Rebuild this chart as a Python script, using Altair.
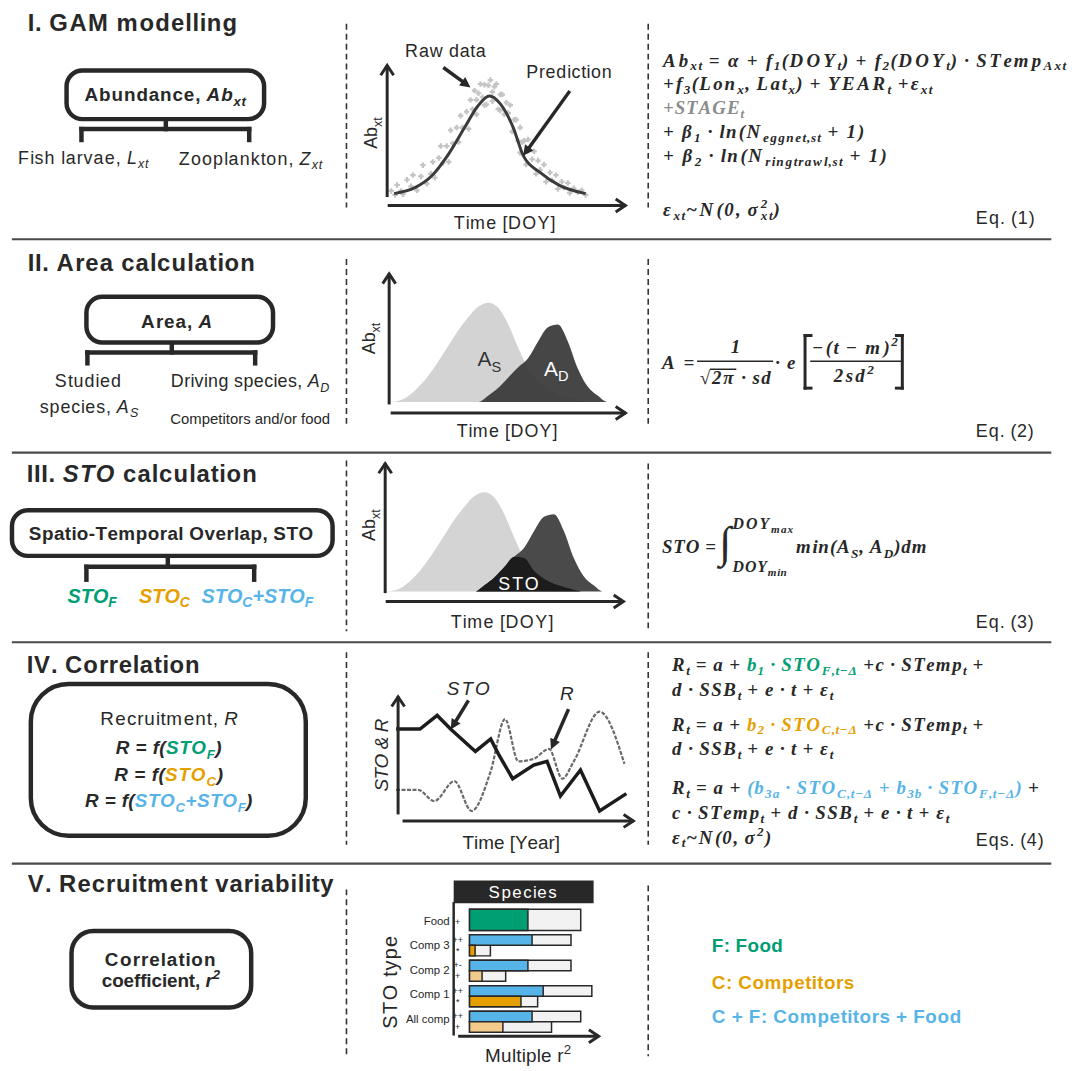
import math
import altair as alt
import pandas as pd

# ---------------------------------------------------------------- values
# Panel I: GAM prediction and raw observations (day of year vs relative abundance)
pred_doy = [2.5, 13, 21.5, 29.5, 38, 44.5, 50.5, 56, 62.5, 67.5, 76, 86, 99]
pred_ab = [0.03, 0.075, 0.165, 0.32, 0.53, 0.69, 0.77, 0.71, 0.53, 0.32, 0.19, 0.09, 0.03]
raw_doy = [1, 3, 4, 6, 7, 9, 11, 12, 14, 16, 17, 19, 21, 22, 23, 25, 26, 27, 29, 30,
           31, 32, 34, 35, 36, 37, 39, 40, 41, 42, 43, 44, 45, 46, 47, 48, 49, 50, 51, 52,
           53, 54, 55, 56, 57, 58, 59, 60, 61, 62, 63, 64, 65, 66, 66, 67, 68, 69, 70, 70,
           72, 73, 74, 75, 76, 78, 79, 81, 82, 84, 85, 87, 88, 90, 91, 93, 95, 97, 99,
           44, 48, 52, 56]
raw_ab = [0.05, 0.02, 0.095, 0.05, 0.025, 0.135, 0.085, 0.17, 0.055, 0.16, 0.245, 0.105,
          0.18, 0.27, 0.15, 0.30, 0.39, 0.26, 0.39, 0.27, 0.51, 0.41, 0.53, 0.42, 0.62, 0.53,
          0.65, 0.52, 0.74, 0.67, 0.81, 0.63, 0.79, 0.86, 0.76, 0.855, 0.705, 0.85, 0.89, 0.73,
          0.84, 0.86, 0.67, 0.78, 0.78, 0.63, 0.72, 0.64, 0.70, 0.50, 0.59, 0.59, 0.43, 0.53,
          0.34, 0.42, 0.43, 0.25, 0.36, 0.44, 0.29, 0.35, 0.18, 0.28, 0.21, 0.25, 0.12, 0.19,
          0.13, 0.17, 0.065, 0.12, 0.075, 0.11, 0.035, 0.07, 0.04, 0.055, 0.02,
          0.74, 0.70, 0.80, 0.66]

# Panels II and III: studied species (A_S) and driving species (A_D)
area_doy = [0, 5, 10, 15, 20, 25, 30, 35, 40, 45, 50, 55, 60, 65, 70, 75, 80, 85, 90, 95,
            100, 105, 110, 115]
studied_ab = [0.0, 0.01, 0.05, 0.12, 0.21, 0.32, 0.44, 0.56, 0.66, 0.74, 0.77, 0.73, 0.60,
              0.42, 0.26, 0.16, 0.10, 0.06, 0.035, 0.015, 0.0, 0.0, 0.0, 0.0]
driving_ab = [0.0, 0.0, 0.0, 0.0, 0.0, 0.0, 0.0, 0.0, 0.0, 0.0, 0.05, 0.11, 0.19, 0.27, 0.34,
              0.47, 0.58, 0.60, 0.47, 0.26, 0.12, 0.05, 0.0, 0.0]
overlap_ab = [min(s, d) for s, d in zip(studied_ab, driving_ab)]

# Panel IV: STO and recruitment time series
sto_t = [0, 2.5, 4.3, 5.7, 8.3, 9.9, 10.7, 12.2, 14.4, 15.8, 17.2, 19.3, 21.3, 24.1]
sto_v = [0.74, 0.74, 0.85, 0.74, 0.56, 0.66, 0.54, 0.34, 0.45, 0.48, 0.20, 0.41, 0.08, 0.22]
rec_t = [0, 2.3, 4.0, 6.1, 7.9, 9.9, 11.4, 12.8, 14.4, 16.0, 17.4, 18.6, 21.3, 23.9]
rec_v = [0.25, 0.25, 0.16, 0.32, 0.08, 0.40, 0.82, 0.48, 0.50, 0.58, 0.34, 0.48, 0.88, 0.46]

# Panel V: multiple r2 by STO type
sto_types = ["Food", "Comp 3", "Comp 2", "Comp 1", "All comp"]
bar_type = ["Food", "Comp 3", "Comp 3", "Comp 2", "Comp 2", "Comp 1", "Comp 1", "All comp", "All comp"]
bar_group = ["F", "C+F", "C", "C+F", "C", "C+F", "C", "C+F", "C"]
bar_kind = ["Food", "Comp+Food", "Comp", "Comp+Food", "Comp (weak)", "Comp+Food", "Comp",
            "Comp+Food", "Comp (weak)"]
bar_r2 = [0.42, 0.45, 0.04, 0.42, 0.09, 0.53, 0.37, 0.45, 0.24]
bar_max = [0.80, 0.73, 0.15, 0.73, 0.26, 0.88, 0.49, 0.80, 0.59]
bar_sig = ["+", "++", "*", "+-", "+", "++", "*", "++", "+"]

# ---------------------------------------------------------------- styles
DARK = "#282828"
GREEN = "#009E73"
ORANGE = "#E69F00"
LORANGE = "#F2CB8A"
BLUE = "#56B4E9"
GREYTXT = "#8c8c8c"
WHITE = "#ffffff"
FONTS = {"sans": "Liberation Sans", "serif": "Liberation Serif"}

ASCII = [chr(c) for c in range(32, 127)]
HELV = ([278, 278, 355, 556, 556, 889, 667, 191, 333, 333, 389, 584, 278, 333, 278, 278] + [556] * 10 +
        [278, 278, 584, 584, 584, 556, 1015] +
        [667, 667, 722, 722, 667, 611, 778, 722, 278, 500, 667, 556, 833, 722, 778, 667, 778, 722,
         667, 611, 722, 667, 944, 667, 667, 611] + [278, 278, 278, 469, 556, 333] +
        [556, 556, 500, 556, 556, 278, 556, 556, 222, 222, 500, 222, 833, 556, 556, 556, 556, 333,
         500, 278, 556, 500, 722, 500, 500, 500] + [334, 260, 334, 584])
HELVB = ([278, 333, 474, 556, 556, 889, 722, 238, 333, 333, 389, 584, 278, 333, 278, 278] + [556] * 10 +
         [333, 333, 584, 584, 584, 611, 975] +
         [722, 722, 722, 722, 667, 611, 778, 722, 278, 556, 722, 611, 833, 722, 778, 667, 778, 722,
          667, 611, 722, 667, 944, 667, 667, 611] + [333, 278, 333, 584, 556, 333] +
         [556, 611, 556, 611, 556, 333, 611, 611, 278, 278, 556, 278, 889, 611, 611, 611, 611, 389,
          556, 333, 611, 556, 778, 556, 556, 500] + [389, 280, 389, 584])
TIMESBI = ([250, 389, 555, 500, 500, 833, 778, 278, 333, 333, 500, 570, 250, 333, 250, 278] + [500] * 10 +
           [333, 333, 570, 570, 570, 500, 832] +
           [667, 667, 667, 722, 667, 667, 722, 778, 389, 500, 667, 611, 889, 722, 722, 611, 722, 667,
            556, 611, 722, 667, 889, 667, 611, 611] + [333, 278, 333, 570, 500, 333] +
           [500, 500, 444, 500, 444, 333, 500, 556, 278, 278, 500, 278, 778, 556, 500, 500, 500, 389,
            389, 278, 556, 444, 667, 500, 444, 389] + [348, 220, 348, 570])
EXTRA = {"α": 560, "β": 520, "ε": 440, "σ": 560, "Δ": 640, "π": 560, "·": 260, "−": 590,
         "√": 550, "∫": 300, "²": 330}
MET = {("sans", "normal"): dict(zip(ASCII, HELV)), ("sans", "bold"): dict(zip(ASCII, HELVB)),
       ("serif", "bold"): dict(zip(ASCII, TIMESBI)), ("serif", "normal"): dict(zip(ASCII, TIMESBI))}
for m in MET.values():
    m.update(EXTRA)


def parse(m):
    out, buf, i = [], "", 0
    while i < len(m):
        if m.startswith("_!{", i):
            kind, j0 = "S", i + 3
        elif m.startswith("_{", i):
            kind, j0 = "s", i + 2
        elif m.startswith("^{", i):
            kind, j0 = "p", i + 2
        else:
            buf += m[i]
            i += 1
            continue
        if buf:
            out.append((buf, "n"))
            buf = ""
        j = m.index("}", j0)
        out.append((m[j0:j], kind))
        i = j + 1
    if buf:
        out.append((buf, "n"))
    return out


text_rows = []


def P(markup, color=DARK, weight="normal", style="normal"):
    return (markup, color, weight, style)


def E(markup, color=DARK):
    return (markup, color, "bold", "italic")


def T(parts, x, y, size, fam="sans", align="left", width=None, angle=0, sub=0.25):
    items, cum, last_start, last_w = [], 0.0, 0.0, 0.0
    for markup, color, weight, style in parts:
        table = MET[(fam, weight)]
        for txt, kind in parse(markup):
            sc = 1.0 if kind == "n" else 0.7
            start = last_start if kind == "S" else cum
            pos = start
            for ch in txt:
                items.append((ch, pos, kind, sc, color, weight, style))
                pos += table.get(ch, 560) / 1000.0 * sc
            w = pos - start
            cum = start + max(last_w, w) if kind == "S" else pos
            last_start, last_w = start, w
    k = width / (cum * size) if width else 1.0
    total = cum * size * k
    s0 = {"left": 0.0, "center": -total / 2, "right": -total}[align]
    for ch, pos, kind, sc, color, weight, style in items:
        if ch == " ":
            continue
        along = s0 + pos * size * k
        off = {"n": 0.0, "s": sub, "S": sub, "p": -0.42}[kind] * size
        if angle == 0:
            px, py = x + along, y + off
        else:
            px, py = x + off, y - along
        text_rows.append(dict(x=px, y=py, t=ch, s=size * sc, c=color, fam=fam, wt=weight,
                              st=style, a=angle))


rules, dashed, heads, boxes = [], [], [], []


def R(x1, y1, x2, y2, w=4.5, c=DARK):
    rules.append(dict(x=x1, y=y1, x2=x2, y2=y2, w=w, c=c))


def arrow(x1, y1, x2, y2, head="fill", w=3.5):
    L = math.hypot(x2 - x1, y2 - y1)
    ux, uy = (x2 - x1) / L, (y2 - y1) / L
    back = 6 if head == "fill" else 1
    R(x1, y1, x2 - ux * back, y2 - uy * back, w)
    heads.append(dict(x=x2, y=y2, a=math.degrees(math.atan2(ux, -uy)) % 360, kind=head))


def bracket(cx, ytop, ybar, x1, x2, ybot):
    R(cx, ytop, cx, ybar)
    R(x1, ybar, x2, ybar)
    R(x1, ybar, x1, ybot)
    R(x2, ybar, x2, ybot)


# ---------------------------------------------------------------- row I
T([P("I. GAM modelling", weight="bold")], 28, 27, 24, width=212)
boxes.append(dict(x=67, x2=266, y=67, y2=116, r=16))
T([P("Abundance, ", weight="bold"), P("Ab_{xt}", weight="bold", style="italic")], 166.5, 98, 19,
  align="center", width=163)
bracket(167, 117, 126, 82, 251, 137)
T([P("Fish larvae, "), P("L_{xt}", style="italic")], 18, 161, 18, width=132)
T([P("Zooplankton, "), P("Z_{xt}", style="italic")], 180, 162, 18, width=145)
T([P("Raw data")], 408, 53, 18, width=82)
T([P("Prediction")], 530, 75, 18, width=87)
T([P("Ab_{xt}")], 380, 130, 18, align="center", angle=270)
T([P("Time [DOY]")], 508.5, 227, 18, align="center", width=103)
arrow(390, 193, 390, 62, "chev", 3)
arrow(392, 203, 630, 203, "chev", 3)
arrow(448, 65, 474, 84)
arrow(573, 89, 527, 153)
T([E("Ab_{xt} = α + f_{1}(DOY_{t}) + f_{2}(DOY_{t}) · STemp_{Axt}")], 668, 63, 19, "serif",
  width=407, sub=0.2)
T([E("+f_{3}(Lon_{x}, Lat_{x}) + YEAR_{t} +ε_{xt}")], 668, 87, 19, "serif", width=272, sub=0.2)
T([E("+STAGE_{t}", GREYTXT)], 668, 111, 19, "serif", width=82, sub=0.2)
T([E("+ β_{1} · ln(N_{eggnet,st} + 1)")], 668, 135, 19, "serif", width=204, sub=0.2)
T([E("+ β_{2} · ln(N_{ringtrawl,st} + 1)")], 668, 159, 19, "serif", width=227, sub=0.2)
T([E("ε_{xt}~N(0, σ^{2}_!{xt})")], 668, 214, 19, "serif", width=119, sub=0.2)
T([P("Eq. (1)")], 983, 222, 18, width=60)

# ---------------------------------------------------------------- row II
T([P("II. Area calculation", weight="bold")], 28, 269, 24, width=230)
boxes.append(dict(x=87, x2=275, y=295, y2=341, r=16))
T([P("Area, ", weight="bold"), P("A", weight="bold", style="italic")], 178.5, 326, 19,
  align="center", width=73)
bracket(173, 342, 351, 88, 257, 362)
T([P("Studied")], 89, 386, 18, align="center", width=68)
T([P("species, "), P("A_{S}", style="italic")], 90, 412, 18, align="center", width=100)
T([P("Driving species, "), P("A_{D}", style="italic")], 252, 386, 18, align="center", width=160)
T([P("Competitors and/or food")], 252, 423, 15, align="center", width=161)
T([P("Ab_{xt}")], 378, 337, 18, align="center", angle=270)
T([P("Time [DOY]")], 511, 436, 18, align="center", width=102)
T([P("A_{S}", "#333333")], 481, 365, 21)
T([P("A_{D}", WHITE)], 548, 375, 21)
arrow(392, 402, 392, 272, "chev", 3)
arrow(395, 412, 630, 412, "chev", 3)
T([E("A =")], 667, 368, 19, "serif", width=35)
T([E("1")], 741, 352, 19, "serif", align="center")
T([E("√2π · sd")], 705, 383, 19, "serif", width=73)
R(716, 368, 741, 368, 1.5)
R(703, 360, 778, 360, 1.6)
T([E("· e")], 781, 368, 19, "serif", width=22)
T([E("−(t − m)^{2}")], 818, 353, 19, "serif", width=88)
R(817, 360, 907, 360, 1.6)
T([E("2sd^{2}")], 840, 381, 19, "serif", width=42)
for bx, sgn in ((811, 1), (909, -1)):
    R(bx, 334, bx, 387, 3)
    R(bx, 334, bx + 6 * sgn, 334, 3)
    R(bx, 387, bx + 6 * sgn, 387, 3)
T([P("Eq. (2)")], 983, 436, 18, width=59)

# ---------------------------------------------------------------- row III
T([P("III. ", weight="bold"), P("STO", weight="bold", style="italic"),
   P(" calculation", weight="bold")], 27, 482, 24, width=233)
boxes.append(dict(x=12, x2=335, y=510, y2=556, r=16))
T([P("Spatio-Temporal Overlap, STO", weight="bold")], 172.5, 540, 19, align="center", width=287)
bracket(169, 557, 567, 87, 256, 580)
T([P("STO_{F}", GREEN, "bold", "italic")], 68, 603, 20)
T([P("STO_{C}", ORANGE, "bold", "italic")], 140, 603, 20)
T([P("STO_{C}+STO_{F}", BLUE, "bold", "italic")], 203, 603, 20)
T([P("Ab_{xt}")], 378, 525, 18, align="center", angle=270)
T([P("Time [DOY]")], 506, 629, 18, align="center", width=104)
arrow(388, 592, 388, 463, "chev", 3)
arrow(390, 602, 628, 602, "chev", 3)
T([P("STO", WHITE)], 523.5, 590, 18, align="center", width=43)
T([E("STO =")], 667, 553, 19, "serif", width=55)
T([E("∫")], 724, 557, 44, "serif")
T([E("DOY_{max}")], 738, 529, 16, "serif", width=62)
T([E("DOY_{min}")], 738, 572, 16, "serif", width=55)
T([E("min(A_{S}, A_{D})dm")], 802, 553, 19, "serif", width=133)
T([P("Eq. (3)")], 983, 629, 18, width=59)

# ---------------------------------------------------------------- row IV
T([P("IV. Correlation", weight="bold")], 27, 674, 24, width=175)
T([P("Recruitment, "), P("R", style="italic")], 171, 726, 19, align="center", width=140)
for yy, lab, col, wd in ((756, "STO_{F}", GREEN, 107), (783, "STO_{C}", ORANGE, 110),
                         (809, "STO_{C}+STO_{F}", BLUE, 169)):
    T([P("R = f(", DARK, "bold", "italic"), P(lab, col, "bold", "italic"),
       P(")", DARK, "bold", "italic")], 170, yy, 19, align="center", width=wd)
T([P("STO & R", style="italic")], 391, 757, 19, align="center", width=73, angle=270)
T([P("Time [Year]")], 515, 851, 19, align="center")
T([P("STO", style="italic")], 450, 696, 19, width=46)
T([P("R", style="italic")], 564, 701, 19, width=14)
arrow(401, 815, 401, 698, "chev", 3)
arrow(407, 823, 638, 823, "chev", 3)
arrow(471, 703, 454, 731)
arrow(572, 712, 555, 751)
T([E("R_{t} = a + "), E("b_{1} · STO_{F,t−Δ}", GREEN), E(" +c · STemp_{t} +")], 677, 672, 19,
  "serif", width=315, sub=0.2)
T([E("d · SSB_{t} + e · t + ε_{t}")], 677, 697, 19, "serif", width=163, sub=0.2)
T([E("R_{t} = a + "), E("b_{2} · STO_{C,t−Δ}", ORANGE), E(" +c · STemp_{t} +")], 677, 732, 19,
  "serif", width=315, sub=0.2)
T([E("d · SSB_{t} + e · t + ε_{t}")], 677, 757, 19, "serif", width=163, sub=0.2)
T([E("R_{t} = a + "), E("(b_{3a} · STO_{C,t−Δ} + b_{3b} · STO_{F,t−Δ})", BLUE), E(" +")], 677, 796,
  19, "serif", width=371, sub=0.2)
T([E("c · STemp_{t} + d · SSB_{t} + e · t + ε_{t}")], 677, 821, 19, "serif", width=280, sub=0.2)
T([E("ε_{t}~N(0, σ^{2})")], 677, 846, 19, "serif", width=101, sub=0.2)
T([P("Eqs. (4)")], 983, 848, 18, width=69)

# ---------------------------------------------------------------- row V
T([P("V. Recruitment variability", weight="bold")], 28, 895, 24, width=309)
T([P("Correlation", weight="bold")], 162, 969, 19, align="center", width=113)
T([P("coefficient, ", weight="bold"), P("r^{2}", weight="bold", style="italic")], 162, 990, 19,
  align="center", width=119)
T([P("STO type")], 400, 985, 20, align="center", width=95, angle=270)
T([P("Species", WHITE)], 527, 901, 17, align="center", width=70)
T([P("Multiple r^{2}")], 532, 1066, 19, align="center", width=87)
T([P("F: Food", GREEN, "bold")], 717, 955, 19, width=72)
T([P("C: Competitors", ORANGE, "bold")], 717, 992, 19, width=144)
T([P("C + F: Competitors + Food", BLUE, "bold")], 717, 1027, 19, width=252)
R(457, 906, 457, 1038, 2.5)
arrow(463, 1040, 603, 1040, "chev", 3)

# separators and dashed dividers
for yy in (237, 452, 643, 866):
    R(13, yy, 1058, yy, 2.2, "#4a4a4a")
for xx, spans in ((349, [(20, 205), (257, 427), (460, 632), (653, 847), (892, 1058)]),
                  (653, [(20, 205), (257, 427), (463, 632), (653, 847), (888, 1060)])):
    for a, b in spans:
        dashed.append(dict(x=xx, y=a, y2=b))

# ---------------------------------------------------------------- scales
CX = alt.Scale(domain=[8, 1087], range=[0, 1079], nice=False, zero=False)
CY = alt.Scale(domain=[8, 1071], range=[0, 1063], nice=False, zero=False)


def pscale(a, b, dom):
    return alt.Scale(domain=dom, range=[a - 8, b - 8], nice=False, zero=False)


def cx(f="x"):
    return alt.X(f"{f}:Q", scale=CX, axis=None)


def cy(f="y"):
    return alt.Y(f"{f}:Q", scale=CY, axis=None)


layers = []

# boxes
bdf = pd.DataFrame(boxes)
layers.append(alt.Chart(bdf).mark_rect(filled=False, stroke=DARK, strokeWidth=4.5, cornerRadius=16)
              .encode(x=cx(), x2="x2:Q", y=cy(), y2="y2:Q"))
layers.append(alt.Chart(pd.DataFrame([dict(x=31, x2=308, y=685, y2=838)]))
              .mark_rect(filled=False, stroke=DARK, strokeWidth=4.5, cornerRadius=38)
              .encode(x=cx(), x2="x2:Q", y=cy(), y2="y2:Q"))
layers.append(alt.Chart(pd.DataFrame([dict(x=72, x2=253, y=934, y2=1011)]))
              .mark_rect(filled=False, stroke=DARK, strokeWidth=4.5, cornerRadius=22)
              .encode(x=cx(), x2="x2:Q", y=cy(), y2="y2:Q"))
layers.append(alt.Chart(pd.DataFrame([dict(x=457, x2=598, y=883, y2=906)]))
              .mark_rect(color=DARK).encode(x=cx(), x2="x2:Q", y=cy(), y2="y2:Q"))

# panel I
s1x, s1y = pscale(392, 632, [0, 120]), pscale(195, 62, [0, 1])
layers.append(alt.Chart(pd.DataFrame(dict(doy=raw_doy, ab=raw_ab)))
              .mark_point(shape="cross", filled=True, size=30, color="#c4c4c4", opacity=1)
              .encode(x=alt.X("doy:Q", scale=s1x, axis=None), y=alt.Y("ab:Q", scale=s1y, axis=None)))
layers.append(alt.Chart(pd.DataFrame(dict(doy=pred_doy, ab=pred_ab)))
              .mark_line(color="#3a3a3a", strokeWidth=3, interpolate="monotone")
              .encode(x=alt.X("doy:Q", scale=s1x, axis=None), y=alt.Y("ab:Q", scale=s1y, axis=None)))

# panel II
adf = pd.DataFrame(dict(doy=area_doy, s=studied_ab, d=driving_ab, o=overlap_ab))
s2x, s2y = pscale(392, 632, [0, 120]), pscale(401, 271, [0, 1])
layers.append(alt.Chart(adf).mark_area(color="#d3d3d3", interpolate="monotone")
              .encode(x=alt.X("doy:Q", scale=s2x, axis=None), y=alt.Y("s:Q", scale=s2y, axis=None)))
layers.append(alt.Chart(adf).mark_area(color="#383838", opacity=0.93, interpolate="monotone")
              .encode(x=alt.X("doy:Q", scale=s2x, axis=None), y=alt.Y("d:Q", scale=s2y, axis=None)))

# panel III
s3x, s3y = pscale(388, 628, [0, 120]), pscale(592, 462, [0, 1])
for fld, col in (("s", "#d4d4d4"), ("d", "#4a4a4a"), ("o", "#1c1c1c")):
    layers.append(alt.Chart(adf).mark_area(color=col, interpolate="monotone")
                  .encode(x=alt.X("doy:Q", scale=s3x, axis=None),
                          y=alt.Y(f"{fld}:Q", scale=s3y, axis=None)))

# panel IV
s4x, s4y = pscale(399, 630, [0, 24]), pscale(823, 698, [0, 1])
layers.append(alt.Chart(pd.DataFrame(dict(t=rec_t, v=rec_v)))
              .mark_line(color="#6a6a6a", strokeWidth=2.2, strokeDash=[4, 1.5], interpolate="monotone")
              .encode(x=alt.X("t:Q", scale=s4x, axis=None), y=alt.Y("v:Q", scale=s4y, axis=None)))
layers.append(alt.Chart(pd.DataFrame(dict(t=sto_t, v=sto_v)))
              .mark_line(color="#1c1c1c", strokeWidth=3.5)
              .encode(x=alt.X("t:Q", scale=s4x, axis=None), y=alt.Y("v:Q", scale=s4y, axis=None)))

# panel V bars
bars = pd.DataFrame(dict(type=bar_type, group=bar_group, kind=bar_kind, r2=bar_r2, rmax=bar_max,
                         sig=bar_sig))
s5x = pscale(473, 613, [0, 1])
s5y = alt.Scale(domain=sto_types, range=[904, 1028], paddingInner=0.17, paddingOuter=0)
offs = alt.Scale(domain=["C+F", "C"], paddingInner=0, paddingOuter=0)
kcol = alt.Scale(domain=["Food", "Comp+Food", "Comp", "Comp (weak)"],
                 range=[GREEN, BLUE, ORANGE, LORANGE])
food = bars[bars.type == "Food"]
comp = bars[bars.type != "Food"]
for dfb, use_off in ((food, False), (comp, True)):
    enc = dict(y=alt.Y("type:N", scale=s5y, axis=None))
    if use_off:
        enc["yOffset"] = alt.YOffset("group:N", scale=offs)
    layers.append(alt.Chart(dfb).mark_bar(color="#f2f2f2", stroke=DARK, strokeWidth=1.5)
                  .encode(x=alt.X("rmax:Q", scale=s5x, axis=None), **enc))
    layers.append(alt.Chart(dfb).mark_bar(stroke=DARK, strokeWidth=1.5)
                  .encode(x=alt.X("r2:Q", scale=s5x, axis=None),
                          color=alt.Color("kind:N", scale=kcol, legend=None), **enc))
    layers.append(alt.Chart(dfb).mark_text(font=FONTS["sans"], fontSize=9, color=DARK,
                                           align="center", baseline="middle")
                  .encode(x=alt.value(461 - 8), text="sig:N", **enc))
layers.append(alt.Chart(pd.DataFrame(dict(type=sto_types)))
              .mark_text(font=FONTS["sans"], fontSize=11.5, color=DARK, align="right", baseline="middle")
              .encode(x=alt.value(453 - 8), y=alt.Y("type:N", scale=s5y, axis=None), text="type:N"))

# lines, dashes, arrowheads
layers.append(alt.Chart(pd.DataFrame(rules)).mark_rule(strokeCap="square")
              .encode(x=cx(), x2="x2:Q", y=cy(), y2="y2:Q",
                      strokeWidth=alt.StrokeWidth("w:Q", scale=None), color=alt.Color("c:N", scale=None)))
layers.append(alt.Chart(pd.DataFrame(dashed)).mark_rule(strokeDash=[6, 4], strokeWidth=1.6, color="#333333")
              .encode(x=cx(), y=cy(), y2="y2:Q"))
hdf = pd.DataFrame(heads)
layers.append(alt.Chart(hdf[hdf.kind == "chev"])
              .mark_point(shape="M -1 1.5 L 0 0 L 1 1.5", filled=False, size=170, strokeWidth=3,
                          color=DARK, opacity=1, strokeJoin="miter")
              .encode(x=cx(), y=cy(), angle=alt.Angle("a:Q", scale=None)))
layers.append(alt.Chart(hdf[hdf.kind == "fill"])
              .mark_point(shape="M -1 2 L 0 0 L 1 2 Z", filled=True, size=110, color=DARK, opacity=1)
              .encode(x=cx(), y=cy(), angle=alt.Angle("a:Q", scale=None)))

# text
tdf = pd.DataFrame(text_rows)
for (fam, wt, st), g in tdf.groupby(["fam", "wt", "st"]):
    layers.append(alt.Chart(g.reset_index(drop=True))
                  .mark_text(font=FONTS[fam], fontWeight=wt, fontStyle=st, align="left",
                             baseline="alphabetic")
                  .encode(x=cx(), y=cy(), text="t:N", size=alt.Size("s:Q", scale=None),
                          color=alt.Color("c:N", scale=None), angle=alt.Angle("a:Q", scale=None)))

chart = (alt.layer(*layers)
         .resolve_scale(x="independent", y="independent")
         .properties(width=1079, height=1063, padding=0, autosize=alt.AutoSizeParams(type="none"))
         .configure_view(stroke=None))

chart.save("out.html", embed_options={"renderer": "svg", "actions": False})
